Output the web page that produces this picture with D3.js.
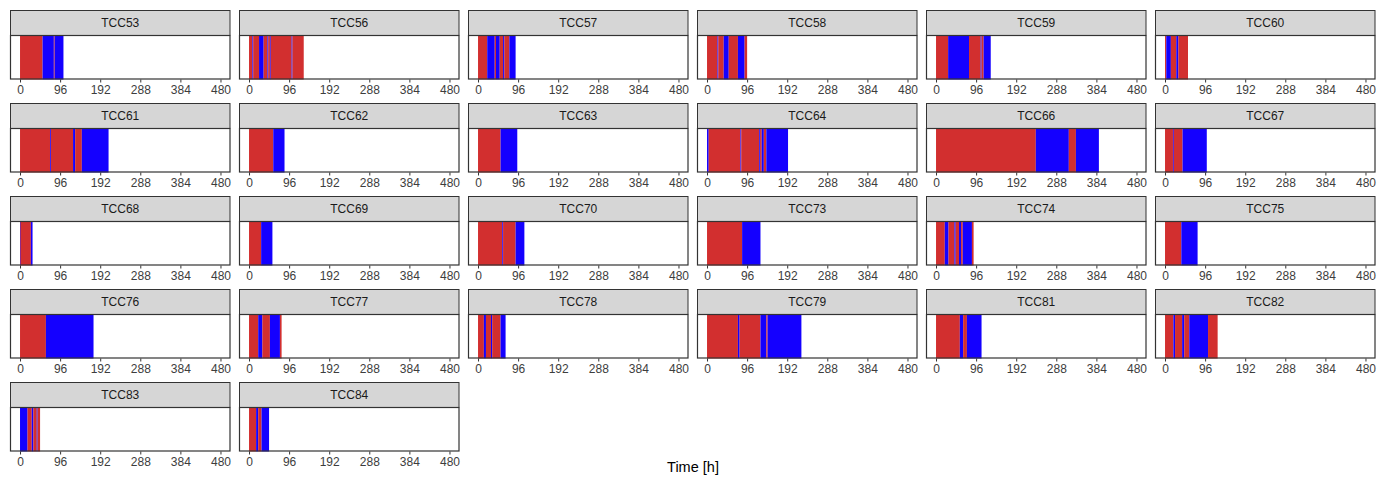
<!DOCTYPE html>
<html>
<head>
<meta charset="utf-8">
<script src="https://cdn.jsdelivr.net/npm/d3@7"></script>
<style>
  body { margin: 0; background: #fff; }
  svg { display: block; font-family: "Liberation Sans", Arial, sans-serif; }
  .strip-text { font-size: 12px; fill: #1a1a1a; text-anchor: middle; }
  .tick text { font-size: 12px; fill: #3d3d3d; }
  .axis-title { font-size: 14.5px; fill: #000; text-anchor: middle; }
</style>
</head>
<body>
<svg width="1391" height="477"></svg>
<script>
// state runs per patient: [state, start hour, end hour]  R = red, B = blue
var TCC53 = [["R",0,54],["B",54,81],["R",81,83],["B",83,104]];
var TCC56 = [["R",0,8],["B",8,10],["R",10,24],["B",24,35],["R",35,44],["B",44,46],["R",46,50],["B",50,52],["R",52,102],["B",102,104],["R",104,131]];
var TCC57 = [["R",0,22],["B",22,40],["R",40,43],["B",43,52],["R",52,60],["B",60,63],["R",63,75],["B",75,90]];
var TCC58 = [["R",0,25],["B",25,27],["R",27,40],["B",40,52],["R",52,74],["B",74,90],["R",90,96]];
var TCC59 = [["R",0,29],["B",29,79],["R",79,107],["B",107,109],["R",109,114],["B",114,131]];
var TCC60 = [["R",0,3],["B",3,14],["R",14,27],["B",27,32],["R",32,55]];
var TCC61 = [["R",0,72],["B",72,74],["R",74,127],["B",127,132],["R",132,148],["B",148,212]];
var TCC62 = [["R",0,58],["B",58,85]];
var TCC63 = [["R",0,54],["B",54,94]];
var TCC64 = [["B",0,4],["R",4,80],["B",80,82],["R",82,125],["B",125,127],["R",127,131],["B",131,136],["R",136,142],["B",142,194]];
var TCC66 = [["R",0,239],["B",239,318],["R",318,335],["B",335,390]];
var TCC67 = [["R",0,19],["B",19,21],["R",21,42],["B",42,100]];
var TCC68 = [["B",0,1],["R",1,26],["B",26,30]];
var TCC69 = [["R",0,29],["B",29,56]];
var TCC70 = [["R",0,58],["B",58,60],["R",60,90],["B",90,111]];
var TCC73 = [["R",0,84],["B",84,128]];
var TCC74 = [["R",0,21],["B",21,30],["R",30,44],["B",44,47],["R",47,55],["B",55,60],["R",60,64],["B",64,86],["R",86,90]];
var TCC75 = [["R",0,39],["B",39,78]];
var TCC76 = [["R",0,62],["B",62,176]];
var TCC77 = [["R",0,22],["B",22,32],["R",32,50],["B",50,74],["R",74,78]];
var TCC78 = [["R",0,14],["B",14,19],["R",19,31],["B",31,34],["R",34,54],["B",54,66]];
var TCC79 = [["R",0,74],["B",74,78],["R",78,128],["B",128,142],["R",142,145],["B",145,226]];
var TCC81 = [["R",0,57],["B",57,65],["R",65,74],["B",74,109]];
var TCC82 = [["R",0,20],["B",20,24],["R",24,41],["B",41,46],["R",46,58],["B",58,103],["R",103,126]];
var TCC83 = [["B",0,18],["R",18,28],["B",28,32],["R",32,40],["B",40,42],["R",42,48]];
var TCC84 = [["R",0,17],["B",17,22],["R",22,30],["B",30,48]];

var panelNames = ["TCC53","TCC56","TCC57","TCC58","TCC59","TCC60",
                  "TCC61","TCC62","TCC63","TCC64","TCC66","TCC67",
                  "TCC68","TCC69","TCC70","TCC73","TCC74","TCC75",
                  "TCC76","TCC77","TCC78","TCC79","TCC81","TCC82",
                  "TCC83","TCC84"];
var panelRuns = [TCC53,TCC56,TCC57,TCC58,TCC59,TCC60,TCC61,TCC62,TCC63,TCC64,TCC66,TCC67,
                 TCC68,TCC69,TCC70,TCC73,TCC74,TCC75,TCC76,TCC77,TCC78,TCC79,TCC81,TCC82,
                 TCC83,TCC84];
var timeTicks = [0,96,192,288,384,480];

var svg = d3.select("svg");
var ncol = 6,
    offX = 10, offY = 10,
    pw = 220.5, colStep = 229,
    stripH = 25, ph = 44.5, rowStep = 93;

var x = d3.scaleLinear().domain([-24, 504]).range([0, pw]);
var colour = d3.scaleOrdinal().domain(["R","B"]).range(["#d02424","#1400ff"]);

panelNames.forEach(function (name, i) {
  var col = i % ncol, row = Math.floor(i / ncol);
  var g = svg.append("g")
    .attr("transform", "translate(" + (offX + col * colStep) + "," + (offY + row * rowStep) + ")");

  // strip
  g.append("rect")
    .attr("x", 0.5).attr("y", 0.5)
    .attr("width", pw - 1).attr("height", stripH)
    .attr("fill", "#d6d6d6").attr("stroke", "#333").attr("stroke-width", 1);
  g.append("text")
    .attr("class", "strip-text")
    .attr("x", pw / 2).attr("y", stripH / 2 + 4.5)
    .text(name);

  var p = g.append("g").attr("transform", "translate(0," + stripH + ")");
  p.append("rect")
    .attr("width", pw).attr("height", ph).attr("fill", "#fff");

  p.selectAll("rect.run")
    .data(panelRuns[i])
    .enter().append("rect")
    .attr("class", "run")
    .attr("x", function (d) { return x(d[1]); })
    .attr("width", function (d) { return Math.max(0.8, x(d[2]) - x(d[1])); })
    .attr("y", 0).attr("height", ph)
    .attr("fill", function (d) { return colour(d[0]); })
    .attr("fill-opacity", function (d) { return d[0] === "R" ? 0.95 : 1; });

  p.append("rect")
    .attr("x", 0.5).attr("y", 0.5)
    .attr("width", pw - 1).attr("height", ph - 1)
    .attr("fill", "none").attr("stroke", "#333").attr("stroke-width", 1.2);

  var axis = d3.axisBottom(x).tickValues(timeTicks).tickSize(3).tickPadding(2.5);
  var ax = p.append("g").attr("transform", "translate(0," + ph + ")").call(axis);
  ax.select(".domain").remove();
  ax.selectAll(".tick line").attr("stroke", "#333");
});

svg.append("text")
  .attr("class", "axis-title")
  .attr("x", 693).attr("y", 472)
  .text("Time [h]");
</script>
</body>
</html>
